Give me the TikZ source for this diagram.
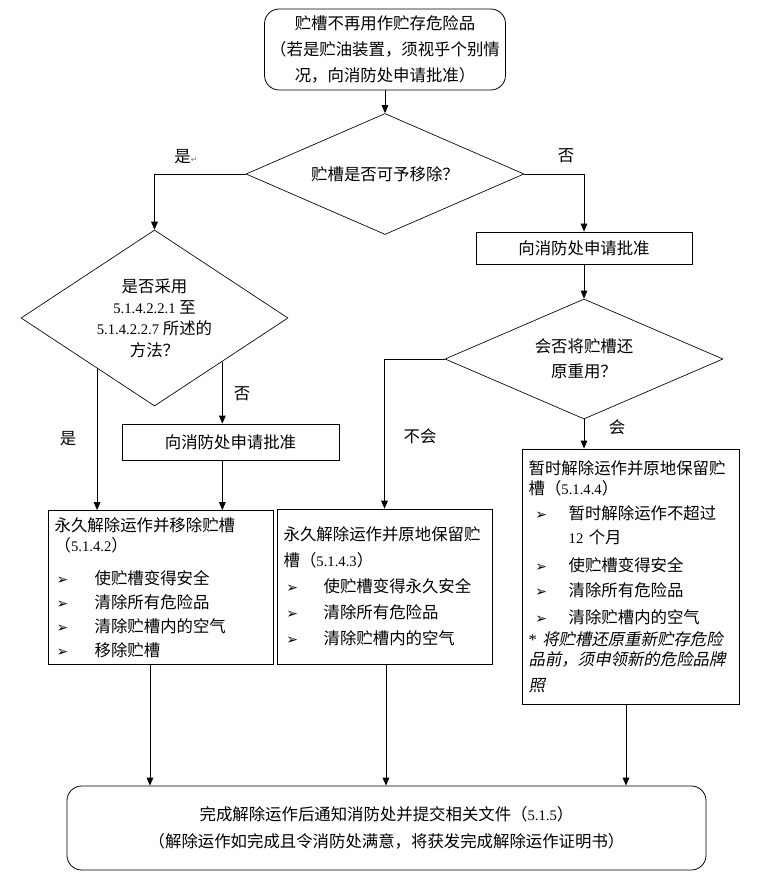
\documentclass[tikz,border=0pt]{standalone}
\usepackage{fontspec}
\setmainfont{Noto Sans CJK SC}
\newfontfamily\lat{Liberation Serif}
\newfontfamily\sym{DejaVu Sans}
\newfontfamily\cjkit{Noto Sans CJK SC}[FakeSlant=0.2]
\usetikzlibrary{shapes.geometric,calc,arrows.meta}
\newcommand\nm[1]{{\lat\fontsize{11pt}{12pt}\selectfont #1}}
\newcommand\itm[2][1.5pt]{\makebox[30pt][l]{\hspace*{#1}{\sym\fontsize{10.5pt}{10pt}\selectfont ➢}}#2}
\tikzset{
  box/.style={draw, rectangle, line width=0.6pt, inner sep=5pt, align=left},
  rbox/.style={draw, rectangle, rounded corners=11pt, line width=0.6pt, align=center},
  dec/.style={draw, diamond, line width=0.5pt, inner sep=0pt, align=center},
  arr/.style={-{Triangle[length=6pt,width=5pt]}, line width=0.6pt},
  lbl/.style={inner sep=0pt}
}

\begin{document}
\begin{tikzpicture}[x=0.75pt, y=-0.75pt, font=\fontsize{12.3pt}{15pt}\selectfont]
\useasboundingbox (0,0) rectangle (774,880);

%% start and questions
\node[rbox, minimum width=180.75pt, minimum height=60.75pt, font=\fontsize{12.3pt}{19.2pt}\selectfont] (top) at (385,49.5)
  {贮槽不再用作贮存危险品\\（若是贮油装置，须视乎个别情\\况，向消防处申请批准）};
\node[dec, shape aspect=2.3, minimum width=208.5pt, minimum height=90.75pt] (d1) at (385,174) {贮槽是否可予移除？};
\node[dec, shape aspect=1.5, minimum width=200.25pt, minimum height=132pt, font=\fontsize{12.3pt}{16pt}\selectfont] (d2) at (154.5,318)
  {是否采用\\\nm{5.1.4.2.2.1} 至\\\nm{5.1.4.2.2.7} 所述的\\方法？};
\node[box, align=center, minimum width=162pt, minimum height=24pt] (ap1) at (584,248) {向消防处申请批准};
\node[dec, shape aspect=2.3, minimum width=208.5pt, minimum height=90pt, font=\fontsize{12.3pt}{19pt}\selectfont] (d3) at (584,359)
  {会否将贮槽还\\原重用？};
\node[box, align=center, minimum width=162.75pt, minimum height=27pt] (ap2) at (230.5,442) {向消防处申请批准};

%% outcomes
\node[box, text width=158.75pt, minimum height=113.25pt] (lb) at (160.5,587.5)
  {永久解除运作并移除贮槽\\
   （\nm{5.1.4.2}）\\[10pt]
   \itm{使贮槽变得安全}\\[3pt]
   \itm{清除所有危险品}\\[3pt]
   \itm{清除贮槽内的空气}\\[3pt]
   \itm{移除贮槽}};
\node[box, text width=151.25pt, minimum height=116.25pt, font=\fontsize{12.3pt}{19.5pt}\selectfont] (mb) at (384.5,586.5)
  {永久解除运作并原地保留贮\\
   槽（\nm{5.1.4.3}）\\
   \itm[2pt]{使贮槽变得永久安全}\\
   \itm[2pt]{清除所有危险品}\\
   \itm[2pt]{清除贮槽内的空气}};
\node[box, text width=152.75pt, minimum height=191.25pt] (rb) at (630.5,576.5)
  {暂时解除运作并原地保留贮\\
   槽（\nm{5.1.4.4}）\\[4pt]
   \itm[5pt]{暂时解除运作不超过}\\[2.5pt]
   \hspace*{30pt}\nm{12} 个月\\[6pt]
   \itm[5pt]{使贮槽变得安全}\\[4pt]
   \itm[5pt]{清除所有危险品}\\[5pt]
   \itm[5pt]{清除贮槽内的空气}\\[1.5pt]
   {\lat *} {\cjkit 将贮槽还原重新贮存危险}\\
   {\cjkit 品前，须申领新的危险品牌}\\[4.5pt]
   {\cjkit 照}};
\node[rbox, minimum width=479.25pt, minimum height=63pt, font=\fontsize{12.3pt}{20pt}\selectfont] (fin) at (386.5,828)
  {完成解除运作后通知消防处并提交相关文件（\nm{5.1.5}）\\（解除运作如完成且令消防处满意，将获发完成解除运作证明书）};

%% labels
\node[lbl] (yes1) at (186,157) {是{\sym\fontsize{6pt}{6pt}\selectfont\color{gray}↵}};
\node[lbl] (no1) at (566,156) {否};
\node[lbl] (yes2) at (68,439) {是};
\node[lbl] (no2) at (242,394) {否};
\node[lbl] (no3) at (420,436) {不会};
\node[lbl] (yes3) at (617,427) {会};

%% connectors
\draw[arr] (top.south) -- (d1.north);
\draw[arr] (d1.west) -| (d2.north);
\draw[arr] (d1.east) -| (ap1.north);
\draw[arr] (ap1.south) -- (d3.north);
\draw[arr] (d3.west) -| (mb.north);
\draw[arr] (d3.south) -- (d3.south |- rb.north);
\coordinate (d2a) at ($(d2.west)!0.571!(d2.south)$);
\coordinate (d2b) at ($(d2.south)!0.507!(d2.east)$);
\draw[arr] (d2a) -- (d2a |- lb.north);
\draw[arr] (d2b) -- (d2b |- ap2.north);
\draw[arr] (ap2.south -| d2b) -- (d2b |- lb.north);
\coordinate (lbo) at ([xshift=-7.9pt]lb.south);
\coordinate (mbo) at ([xshift=1.1pt]mb.south);
\coordinate (rbo) at ([xshift=-3.4pt]rb.south);
\draw[arr] (lbo) -- (lbo |- fin.north);
\draw[arr] (mbo) -- (mbo |- fin.north);
\draw[arr] (rbo) -- (rbo |- fin.north);
\end{tikzpicture}
\end{document}
